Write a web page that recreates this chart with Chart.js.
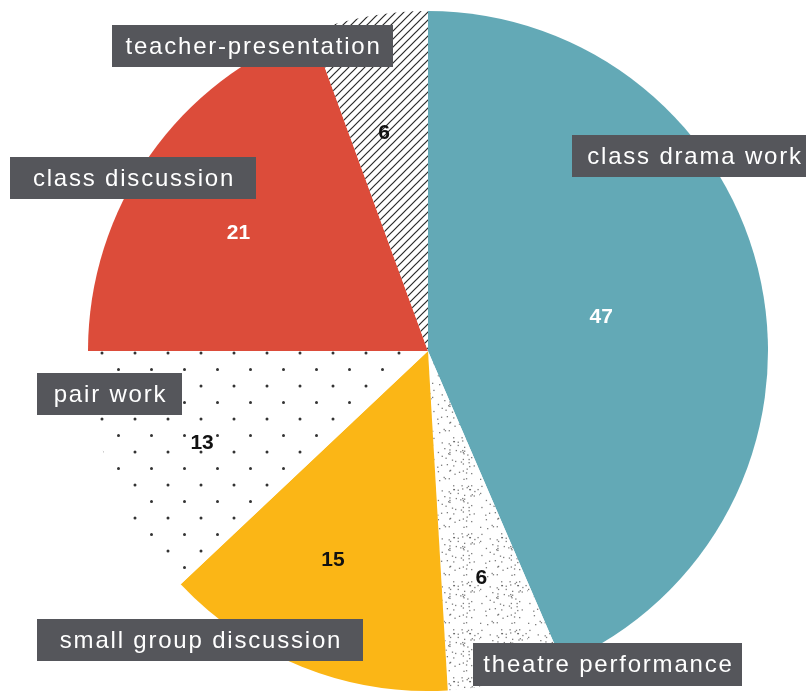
<!DOCTYPE html>
<html>
<head>
<meta charset="utf-8">
<script src="https://cdn.jsdelivr.net/npm/chart.js@4.4.1/dist/chart.umd.min.js"></script>
<style>
    body { margin: 0; background: #fff; }
    #wrap { width: 806px; height: 692px; position: relative; }
</style>
</head>
<body>
<div id="wrap"><canvas id="pie"></canvas></div>
<script>
// Data (clockwise from 12 o'clock)
const labels = ['class drama work', 'theatre performance', 'small group discussion', 'pair work', 'class discussion', 'teacher-presentation'];
const values = [47, 6, 15, 13, 21, 6];

// Label boxes: x, y, w, h
const labelBoxes = [
    [572, 135, 244, 42],
    [473, 643, 269, 43],
    [37, 619, 326, 42],
    [37, 373, 145, 42],
    [10, 157, 246, 42],
    [112, 25, 281, 42]
];
const valueColors = ['#ffffff', '#111111', '#111111', '#111111', '#ffffff', '#111111'];
const valueRadius = [0.52, 0.68, 0.67, 0.715, 0.66, 0.66];
const valueAngleShift = [0, 0, 3, 0, -2.6, -1.3];

// Patterns
function hatchPattern() {
    const c = document.createElement('canvas');
    c.width = 8; c.height = 8;
    const g = c.getContext('2d');
    g.fillStyle = '#fff';
    g.fillRect(0, 0, 8, 8);
    g.strokeStyle = '#2a2a2a';
    g.lineWidth = 1.2;
    g.beginPath();
    g.moveTo(-2, 10); g.lineTo(10, -2);
    g.moveTo(-2, 2); g.lineTo(2, -2);
    g.moveTo(6, 10); g.lineTo(10, 6);
    g.stroke();
    return g.createPattern(c, 'repeat');
}

function dotPattern() {
    const c = document.createElement('canvas');
    c.width = 33; c.height = 33;
    const g = c.getContext('2d');
    g.fillStyle = '#fff';
    g.fillRect(0, 0, 33, 33);
    g.fillStyle = '#333';
    [[3, 23], [19.5, 6.5]].forEach(([x, y]) => {
        g.beginPath();
        g.arc(x, y, 1.5, 0, Math.PI * 2);
        g.fill();
    });
    return g.createPattern(c, 'repeat');
}

function stipplePattern() {
    const c = document.createElement('canvas');
    c.width = 48; c.height = 48;
    const g = c.getContext('2d');
    g.fillStyle = '#fff';
    g.fillRect(0, 0, 48, 48);
    g.fillStyle = 'rgba(70,70,70,0.7)';
    let s = 7;
    for (let i = 0; i < 70; i++) {
        s = (s * 1103515245 + 12345) % 2147483648;
        const x = (s % 4800) / 100;
        s = (s * 1103515245 + 12345) % 2147483648;
        const y = (s % 4800) / 100;
        g.fillRect(x, y, 1.3, 1.3);
    }
    return g.createPattern(c, 'repeat');
}

const fills = ['#63a9b6', stipplePattern(), '#fbb616', dotPattern(), '#dc4c3a', hatchPattern()];

const whiteBg = {
    id: 'whiteBg',
    beforeDraw(chart) {
        const ctx = chart.ctx;
        ctx.save();
        ctx.fillStyle = '#fff';
        ctx.fillRect(0, 0, chart.width, chart.height);
        ctx.restore();
    }
};

const pieLabels = {
    id: 'pieLabels',
    afterDraw(chart) {
        const ctx = chart.ctx;
        const arcs = chart.getDatasetMeta(0).data;
        ctx.save();
        // values
        ctx.font = 'bold 21px "Liberation Sans", Arial, sans-serif';
        ctx.textAlign = 'center';
        ctx.textBaseline = 'middle';
        arcs.forEach((arc, i) => {
            const p = arc.getProps(['x', 'y', 'startAngle', 'endAngle', 'outerRadius'], true);
            const mid = (p.startAngle + p.endAngle) / 2 + valueAngleShift[i] * Math.PI / 180;
            const r = p.outerRadius * valueRadius[i];
            ctx.fillStyle = valueColors[i];
            ctx.fillText(values[i], p.x + Math.cos(mid) * r, p.y + Math.sin(mid) * r + 2);
        });
        // category boxes
        ctx.font = '24px "Liberation Sans", Arial, sans-serif';
        ctx.letterSpacing = '1.8px';
        labels.forEach((lab, i) => {
            const [x, y, w, h] = labelBoxes[i];
            ctx.fillStyle = '#55565b';
            ctx.fillRect(x, y, w, h);
            ctx.fillStyle = '#ffffff';
            ctx.fillText(lab, x + w / 2 + 1, y + h / 2 + 1);
        });
        ctx.restore();
    }
};

new Chart(document.getElementById('pie'), {
    type: 'pie',
    data: {
        labels: labels,
        datasets: [{
            data: values,
            backgroundColor: fills,
            borderWidth: 0,
            hoverOffset: 0
        }]
    },
    options: {
        responsive: true,
        maintainAspectRatio: false,
        animation: false,
        events: [],
        layout: { padding: { left: 88, right: 38, top: 11, bottom: 1 } },
        plugins: {
            legend: { display: false },
            tooltip: { enabled: false }
        }
    },
    plugins: [whiteBg, pieLabels]
});
</script>
</body>
</html>
